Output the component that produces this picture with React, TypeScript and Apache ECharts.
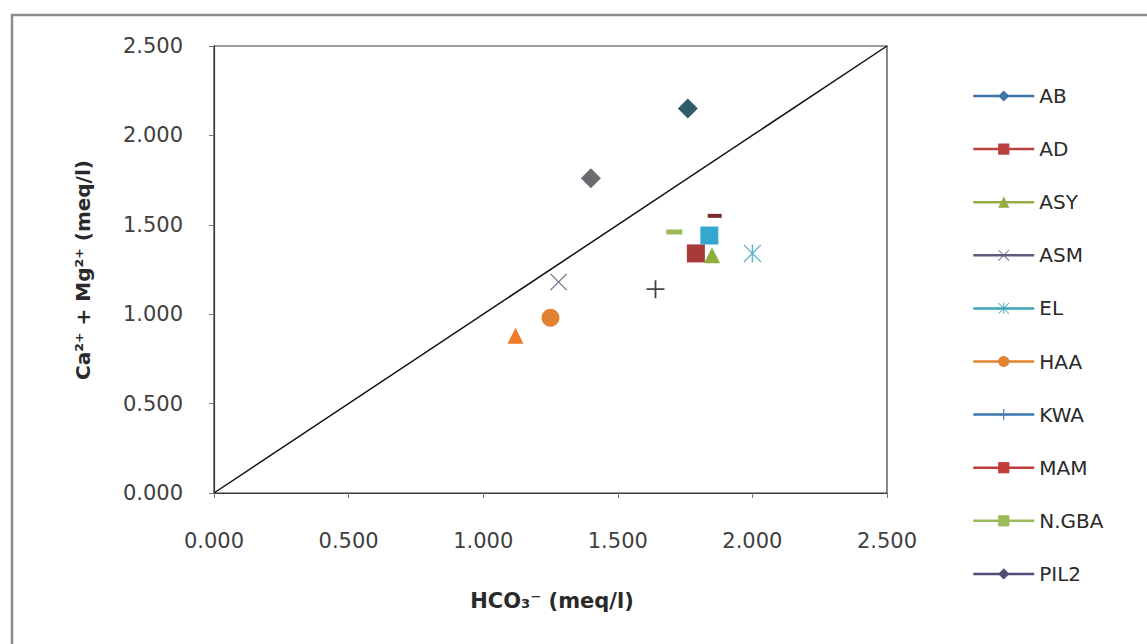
import React, { useEffect, useRef } from "react";
import * as echarts from "echarts";

// ---- data ----
const seriesNames = ["AB", "AD", "ASY", "ASM", "EL", "HAA", "KWA", "MAM", "N.GBA", "PIL2"];
const abPoints = [[1.76, 2.15]];
const adPoints = [[1.79, 1.34]];
const asyPoints = [[1.12, 0.88], [1.85, 1.33]];
const asmPoints = [[1.28, 1.18]];
const elPoints = [[2.0, 1.34], [1.84, 1.44]];
const haaPoints = [[1.25, 0.98]];
const kwaPoints = [[1.64, 1.14]];
const mamPoints = [[1.86, 1.55]];
const ngbaPoints = [[1.71, 1.46]];
const pil2Points = [[1.4, 1.76]];
const equalLine = [[0, 0], [2.5, 2.5]];
const axisTicks = [0, 0.5, 1.0, 1.5, 2.0, 2.5];

const PLUS = "path://M9,0H11V20H9Z M0,9H20V11H0Z";
const CROSS = "path://M1,0L10,9L19,0L20,1L11,10L20,19L19,20L10,11L1,20L0,19L9,10L0,1Z";
const STAR = "path://M1,0L10,9L19,0L20,1L11,10L20,19L19,20L10,11L1,20L0,19L9,10L0,1Z M9.2,0H10.8V20H9.2Z";

const FONT = "DejaVu Sans";

export default function App() {
  const ref = useRef<HTMLDivElement>(null);
  useEffect(() => {
    if (!ref.current) return;
    const chart = echarts.init(ref.current, null, { renderer: "svg" });

    const mk = (
      name: string,
      pts: number[][],
      color: string,
      symbol: string,
      symbolSize: any,
      pointStyles?: any[]
    ) => ({
      name,
      type: "line",
      data: pts.map((p, i) => {
        const o: any = { value: p };
        if (pointStyles && pointStyles[i]) Object.assign(o, pointStyles[i]);
        return o;
      }),
      symbol,
      symbolSize,
      showSymbol: true,
      showAllSymbol: true,
      itemStyle: { color, borderWidth: 0 },
      lineStyle: { color, width: 0, opacity: 0 },
      emphasis: { disabled: true },
      z: 3,
    });

    chart.setOption({
      animation: false,
      backgroundColor: "#ffffff",
      textStyle: { fontFamily: FONT },
      grid: {
        left: 214,
        top: 46,
        right: 260,
        bottom: 151,
        show: true,
        borderColor: "#3a3a3a",
        borderWidth: 1.2,
        backgroundColor: "transparent",
      },
      xAxis: {
        type: "value",
        min: axisTicks[0],
        max: axisTicks[axisTicks.length - 1],
        interval: 0.5,
        axisLine: { show: true, lineStyle: { color: "#3a3a3a", width: 1.2 } },
        axisTick: { show: true, length: 5, lineStyle: { color: "#777" } },
        splitLine: { show: false },
        axisLabel: {
          margin: 37,
          fontSize: 21,
          color: "#404040",
          fontFamily: FONT,
          formatter: (v: number) => v.toFixed(3),
        },
      },
      yAxis: {
        type: "value",
        min: axisTicks[0],
        max: axisTicks[axisTicks.length - 1],
        interval: 0.5,
        axisLine: { show: true, lineStyle: { color: "#3a3a3a", width: 1.2 } },
        axisTick: { show: true, length: 5, lineStyle: { color: "#777" } },
        splitLine: { show: false },
        axisLabel: {
          margin: 31,
          fontSize: 21,
          color: "#404040",
          fontFamily: FONT,
          formatter: (v: number) => v.toFixed(3),
        },
      },
      legend: {
        orient: "vertical",
        left: 972,
        top: 86,
        padding: 0,
        itemWidth: 61,
        itemHeight: 14,
        itemGap: 33.1,
        data: seriesNames,
        textStyle: { fontSize: 20, color: "#2a2a2a", fontFamily: FONT, lineHeight: 20 },
        lineStyle: { width: 2.5, opacity: 1 },
        selectedMode: false,
      },
      graphic: [
        {
          type: "rect",
          shape: { x: 12, y: 15, width: 1200, height: 700 },
          style: { fill: "none", stroke: "#8c8c8c", lineWidth: 2.5 },
          silent: true,
        },
        {
          type: "text",
          x: 83,
          y: 270,
          rotation: Math.PI / 2,
          style: {
            text: "Ca\u00b2\u207a + Mg\u00b2\u207a (meq/l)",
            fontFamily: FONT,
            fontSize: 20,
            fontWeight: "bold",
            fill: "#2a2a2a",
            align: "center",
            verticalAlign: "middle",
          },
        },
        {
          type: "text",
          x: 552,
          y: 601,
          style: {
            text: "HCO\u2083\u207b (meq/l)",
            fontFamily: FONT,
            fontSize: 21,
            fontWeight: "bold",
            fill: "#2a2a2a",
            align: "center",
            verticalAlign: "middle",
          },
        },
      ],
      series: [
        {
          name: "1:1",
          type: "line",
          data: equalLine,
          symbol: "none",
          lineStyle: { color: "#111", width: 1.5 },
          emphasis: { disabled: true },
          z: 2,
        },
        mk("AB", abPoints, "#3f72a8", "diamond", 20, [{ itemStyle: { color: "#2f5c66" } }]),
        mk("AD", adPoints, "#b8403f", "rect", 18, [{ itemStyle: { color: "#a83a3a" } }]),
        mk("ASY", asyPoints, "#93ad45", "triangle", 16, [
          { itemStyle: { color: "#ee7a2a" } },
          { itemStyle: { color: "#8fae3e" } },
        ]),
        mk("ASM", asmPoints, "#5e5a80", CROSS, 17, [{ itemStyle: { color: "#6c6c8a" } }]),
        mk("EL", elPoints, "#3ba7b8", STAR, 18, [
          { itemStyle: { color: "#5ab3c8" } },
          { symbol: "rect", symbolSize: 18, itemStyle: { color: "#35a6d0" } },
        ]),
        mk("HAA", haaPoints, "#e0822f", "circle", 18),
        mk("KWA", kwaPoints, "#3d78b0", PLUS, 18, [{ itemStyle: { color: "#444" } }]),
        mk("MAM", mamPoints, "#c23b3b", "rect", [14, 4], [{ itemStyle: { color: "#7a2a2a" } }]),
        mk("N.GBA", ngbaPoints, "#9bbb59", "rect", [16, 5]),
        mk("PIL2", pil2Points, "#4e4e78", "diamond", 20, [{ itemStyle: { color: "#6a6a70" } }]),
      ],
    });
    return () => chart.dispose();
  }, []);

  return (
    <div
      ref={ref}
      style={{ position: "fixed", left: 0, top: 0, width: 1147, height: 644, background: "#fff" }}
    />
  );
}
